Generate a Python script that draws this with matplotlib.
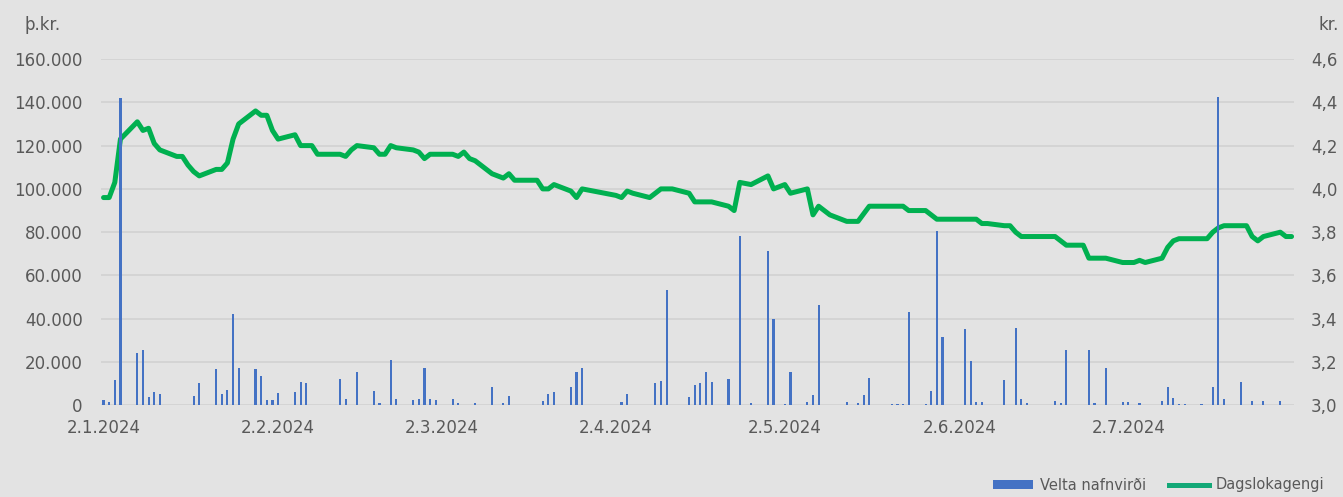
import matplotlib
matplotlib.use("Agg")
import matplotlib.pyplot as plt
import matplotlib.dates as mdates
import matplotlib.ticker as mticker
import pandas as pd
from matplotlib.patches import Patch
from matplotlib.lines import Line2D

# Velta nafnvirði (þ.kr.) per trading day, only days with trades
vol_dates = [
    "2024-01-02", "2024-01-03", "2024-01-04", "2024-01-05", "2024-01-08", "2024-01-09", "2024-01-10",
    "2024-01-11", "2024-01-12", "2024-01-15", "2024-01-16", "2024-01-17", "2024-01-18", "2024-01-19",
    "2024-01-22", "2024-01-23", "2024-01-24", "2024-01-25", "2024-01-26", "2024-01-29", "2024-01-30",
    "2024-01-31",
    "2024-02-01", "2024-02-02", "2024-02-05", "2024-02-06", "2024-02-07", "2024-02-09", "2024-02-12",
    "2024-02-13", "2024-02-14", "2024-02-15", "2024-02-16", "2024-02-19", "2024-02-20", "2024-02-22",
    "2024-02-23", "2024-02-26", "2024-02-27", "2024-02-28", "2024-02-29",
    "2024-03-01", "2024-03-04", "2024-03-05", "2024-03-06", "2024-03-08", "2024-03-11", "2024-03-12",
    "2024-03-13", "2024-03-14", "2024-03-20", "2024-03-21", "2024-03-22", "2024-03-25", "2024-03-26",
    "2024-03-27",
    "2024-04-03", "2024-04-04", "2024-04-08", "2024-04-09", "2024-04-10", "2024-04-11", "2024-04-15",
    "2024-04-16", "2024-04-17", "2024-04-18", "2024-04-19", "2024-04-22", "2024-04-23", "2024-04-24",
    "2024-04-26", "2024-04-29", "2024-04-30",
    "2024-05-02", "2024-05-03", "2024-05-06", "2024-05-07", "2024-05-08", "2024-05-10", "2024-05-13",
    "2024-05-15", "2024-05-16", "2024-05-17", "2024-05-21", "2024-05-22", "2024-05-23", "2024-05-24",
    "2024-05-27", "2024-05-28", "2024-05-29", "2024-05-30",
    "2024-06-03", "2024-06-04", "2024-06-05", "2024-06-06", "2024-06-10", "2024-06-12", "2024-06-13",
    "2024-06-14", "2024-06-19", "2024-06-20", "2024-06-21", "2024-06-25", "2024-06-26", "2024-06-28",
    "2024-07-01", "2024-07-02", "2024-07-04", "2024-07-08", "2024-07-09", "2024-07-10", "2024-07-11",
    "2024-07-12", "2024-07-15", "2024-07-16", "2024-07-17", "2024-07-18", "2024-07-19", "2024-07-22",
    "2024-07-23", "2024-07-24", "2024-07-26", "2024-07-29", "2024-07-30", "2024-07-31",
]
vol_values = [
    2500, 1700, 11700, 141800, 24300, 25600, 3700,
    6000, 5400, 300, 300, 300, 4300, 10500,
    16700, 5400, 7000, 42200, 17100, 16700, 13700,
    2500,
    2500, 5600, 6200, 10800, 10200, 200, 200,
    12000, 2800, 100, 15600, 6500, 1300, 21000,
    2800, 2500, 2800, 17100, 2800,
    2500, 2800, 900, 400, 1300, 8700, 300,
    900, 4200, 1900, 5300, 6000, 8400, 15300,
    17100,
    1700, 5300, 100, 10500, 11100, 53300, 4000,
    9600, 10200, 15300, 10700, 12000, 200, 78200,
    900, 71200, 39800,
    600, 15400, 1700, 4800, 46200, 100, 1700,
    1300, 4600, 12800, 500, 500, 600, 43100,
    600, 6700, 80400, 31500,
    35300, 20700, 1700, 1500, 11700, 35600, 2800,
    1300, 1900, 900, 25700, 25500, 900, 17400,
    1700, 1700, 900, 2000, 8400, 3300, 600,
    600, 700, 300, 8700, 142600, 2800, 11000,
    300, 2000, 2000, 2000, 300, 300,
]

# Dagslokagengi (kr.)
close_dates = [
    "2024-01-02", "2024-01-03", "2024-01-04", "2024-01-05", "2024-01-08", "2024-01-09", "2024-01-10",
    "2024-01-11", "2024-01-12", "2024-01-15", "2024-01-16", "2024-01-17", "2024-01-18", "2024-01-19",
    "2024-01-22", "2024-01-23", "2024-01-24", "2024-01-25", "2024-01-26", "2024-01-29", "2024-01-30",
    "2024-01-31",
    "2024-02-01", "2024-02-02", "2024-02-05", "2024-02-06", "2024-02-07", "2024-02-08", "2024-02-09",
    "2024-02-12", "2024-02-13", "2024-02-14", "2024-02-15", "2024-02-16", "2024-02-19", "2024-02-20",
    "2024-02-21", "2024-02-22", "2024-02-23", "2024-02-26", "2024-02-27", "2024-02-28", "2024-02-29",
    "2024-03-01", "2024-03-04", "2024-03-05", "2024-03-06", "2024-03-07", "2024-03-08", "2024-03-11",
    "2024-03-12", "2024-03-13", "2024-03-14", "2024-03-15", "2024-03-18", "2024-03-19", "2024-03-20",
    "2024-03-21", "2024-03-22", "2024-03-25", "2024-03-26", "2024-03-27",
    "2024-04-02", "2024-04-03", "2024-04-04", "2024-04-05", "2024-04-08", "2024-04-09", "2024-04-10",
    "2024-04-11", "2024-04-12", "2024-04-15", "2024-04-16", "2024-04-17", "2024-04-18", "2024-04-19",
    "2024-04-22", "2024-04-23", "2024-04-24", "2024-04-26", "2024-04-29", "2024-04-30",
    "2024-05-02", "2024-05-03", "2024-05-06", "2024-05-07", "2024-05-08", "2024-05-10", "2024-05-13",
    "2024-05-14", "2024-05-15", "2024-05-17", "2024-05-21", "2024-05-22", "2024-05-23", "2024-05-24",
    "2024-05-27", "2024-05-29", "2024-05-30", "2024-05-31",
    "2024-06-03", "2024-06-04", "2024-06-05", "2024-06-06", "2024-06-07", "2024-06-10", "2024-06-11",
    "2024-06-12", "2024-06-13", "2024-06-14", "2024-06-18", "2024-06-19", "2024-06-20", "2024-06-21",
    "2024-06-24", "2024-06-25", "2024-06-26", "2024-06-27", "2024-06-28",
    "2024-07-01", "2024-07-02", "2024-07-03", "2024-07-04", "2024-07-05", "2024-07-08", "2024-07-09",
    "2024-07-10", "2024-07-11", "2024-07-12", "2024-07-15", "2024-07-16", "2024-07-17", "2024-07-18",
    "2024-07-19", "2024-07-22", "2024-07-23", "2024-07-24", "2024-07-25", "2024-07-26", "2024-07-29",
    "2024-07-30", "2024-07-31",
]
close_values = [
    3.96, 3.96, 4.03, 4.23, 4.31, 4.27, 4.28,
    4.21, 4.18, 4.15, 4.15, 4.11, 4.08, 4.06,
    4.09, 4.09, 4.12, 4.23, 4.30, 4.36, 4.34,
    4.34,
    4.27, 4.23, 4.25, 4.20, 4.20, 4.20, 4.16,
    4.16, 4.16, 4.15, 4.18, 4.20, 4.19, 4.16,
    4.16, 4.20, 4.19, 4.18, 4.17, 4.14, 4.16,
    4.16, 4.16, 4.15, 4.17, 4.14, 4.13, 4.07,
    4.06, 4.05, 4.07, 4.04, 4.04, 4.04, 4.00,
    4.00, 4.02, 3.99, 3.96, 4.00,
    3.97, 3.96, 3.99, 3.98, 3.96, 3.98, 4.00,
    4.00, 4.00, 3.98, 3.94, 3.94, 3.94, 3.94,
    3.92, 3.90, 4.03, 4.02, 4.06, 4.00,
    4.02, 3.98, 4.00, 3.88, 3.92, 3.88, 3.85,
    3.85, 3.85, 3.92, 3.92, 3.92, 3.92, 3.90,
    3.90, 3.86, 3.86, 3.86,
    3.86, 3.86, 3.86, 3.84, 3.84, 3.83, 3.83,
    3.80, 3.78, 3.78, 3.78, 3.78, 3.76, 3.74,
    3.74, 3.68, 3.68, 3.68, 3.68,
    3.66, 3.66, 3.66, 3.67, 3.66, 3.68, 3.73,
    3.76, 3.77, 3.77, 3.77, 3.77, 3.80, 3.82,
    3.83, 3.83, 3.83, 3.78, 3.76, 3.78, 3.80,
    3.78, 3.78,
]

BG = "#E3E3E3"
GRID = "#D3D3D3"
TXT = "#595959"
BLUE = "#4472C4"
GREEN = "#00B050"

plt.rcParams["font.family"] = ["DejaVu Sans"]

fig = plt.figure(figsize=(13.43, 4.97), dpi=100, facecolor=BG)
ax_line = fig.add_axes([0.0750, 0.1843, 0.8888, 0.6970], facecolor=BG)
ax_bar = ax_line.twinx()

# line (bottom layer, right axis)
ax_line.plot(pd.to_datetime(close_dates), close_values, color=GREEN, lw=3.6,
             solid_joinstyle="round", solid_capstyle="round")
ax_line.set_ylim(3.0, 4.6)
ax_line.yaxis.set_major_locator(mticker.MultipleLocator(0.2))
ax_line.yaxis.set_major_formatter(mticker.FuncFormatter(lambda v, p: f"{v:.1f}".replace(".", ",")))
ax_line.yaxis.tick_right()
ax_line.yaxis.grid(True, color=GRID, lw=1.3)
ax_line.set_axisbelow(True)

# bars (top layer, left axis)
ax_bar.bar(pd.to_datetime(vol_dates), vol_values, width=0.38, color=BLUE)
ax_bar.set_ylim(0, 160000)
ax_bar.yaxis.set_major_locator(mticker.MultipleLocator(20000))
ax_bar.yaxis.set_major_formatter(mticker.FuncFormatter(lambda v, p: f"{v:,.0f}".replace(",", ".")))
ax_bar.yaxis.tick_left()

ax_line.set_xlim(pd.Timestamp("2024-01-01 12:00"), pd.Timestamp("2024-07-31 12:00"))
ax_line.xaxis.set_major_locator(mdates.MonthLocator(bymonthday=2))
ax_line.xaxis.set_major_formatter(mticker.FuncFormatter(
    lambda v, p: f"{mdates.num2date(v).day}.{mdates.num2date(v).month}.{mdates.num2date(v).year}"))

for a in (ax_line, ax_bar):
    for s in a.spines.values():
        s.set_visible(False)
    a.tick_params(length=0, labelsize=12, colors=TXT)
ax_line.tick_params(axis="y", pad=12)
ax_bar.tick_params(axis="y", pad=13)
ax_line.tick_params(axis="x", pad=10)

fig.text(24 / 1343, 1 - 25 / 497, "þ.kr.", color=TXT, fontsize=12, ha="left", va="center")
fig.text(1339 / 1343, 1 - 25 / 497, "kr.", color=TXT, fontsize=12, ha="right", va="center")

handles = [Patch(facecolor=BLUE), Line2D([0], [0], color="#13A877", lw=3.6)]
fig.legend(handles, ["Velta nafnvirði", "Dagslokagengi"], loc="center left",
           bbox_to_anchor=(980 / 1343, 12 / 497), ncol=2, frameon=False,
           fontsize=10.5, labelcolor=TXT, handlelength=2.7, handleheight=0.6,
           handletextpad=0.5, columnspacing=1.6)

fig.savefig("out.png", dpi=100, facecolor=BG)
